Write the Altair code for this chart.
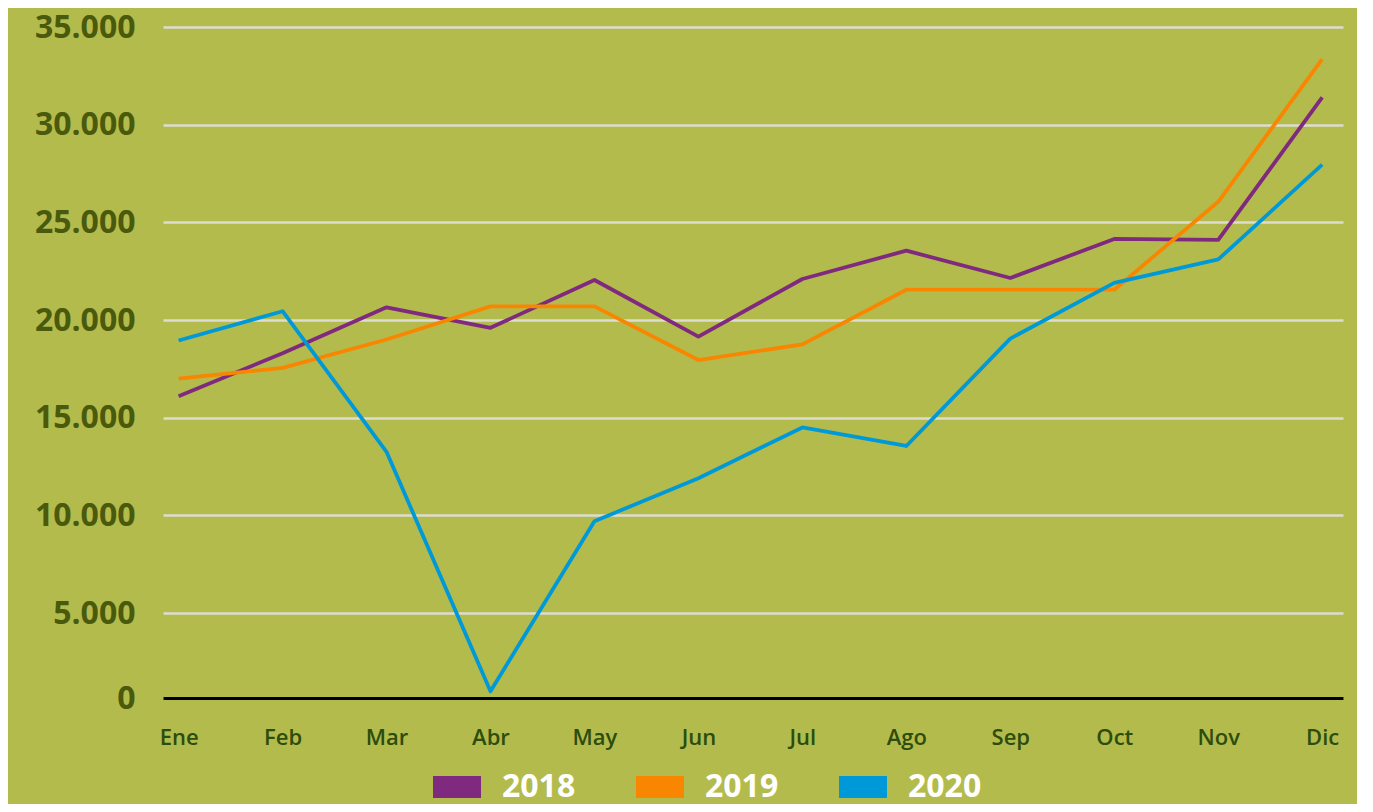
import altair as alt
import pandas as pd

months = ["Ene", "Feb", "Mar", "Abr", "May", "Jun", "Jul", "Ago", "Sep", "Oct", "Nov", "Dic"]
years = ["2018", "2019", "2020"]
v2018 = [16100, 18300, 20650, 19600, 22050, 19150, 22100, 23550, 22150, 24150, 24100, 31400]
v2019 = [17000, 17550, 19000, 20700, 20700, 17950, 18750, 21550, 21550, 21550, 26050, 33350]
v2020 = [18950, 20450, 13250, 400, 9700, 11900, 14500, 13550, 19050, 21900, 23100, 27950]
y_ticks = [0, 5000, 10000, 15000, 20000, 25000, 30000, 35000]
colors = ["#7f2a7f", "#f98600", "#0099d8"]

rows = []
for yr, vals in zip(years, [v2018, v2019, v2020]):
    for i, (m, v) in enumerate(zip(months, vals)):
        rows.append({"idx": i, "mes": m, "year": yr, "value": v})
df = pd.DataFrame(rows)

month_expr = "[" + ",".join(f"'{m}'" for m in months) + "][datum.value]"
FONT = "Open Sans"

chart = alt.Chart(df).mark_line(
    strokeWidth=3.8, strokeJoin="round"
).encode(
    x=alt.X(
        "idx:Q",
        scale=alt.Scale(domain=[-0.15, 11.2], nice=False, zero=False),
        axis=alt.Axis(
            values=list(range(12)), labelExpr=month_expr, title=None, grid=False,
            ticks=False, domainColor="#000000", domainWidth=3, labelFont=FONT,
            labelFontSize=22, labelFontWeight=600, labelColor="#2c4d0c",
            labelPadding=29, labelFlush=False, labelOverlap=False,
        ),
    ),
    y=alt.Y(
        "value:Q",
        scale=alt.Scale(domain=[0, 5000, 35000], range=[671, 586, 0], nice=False, zero=False),
        axis=alt.Axis(
            values=y_ticks, labelExpr="replace(format(datum.value, ','), ',', '.')",
            title=None, domain=False, ticks=False, gridColor="#dcdcd2", gridWidth=2.5,
            labelFont=FONT, labelFontSize=32, labelFontWeight="bold",
            labelColor="#4a5a0c", labelPadding=28,
        ),
    ),
    color=alt.Color(
        "year:N",
        scale=alt.Scale(domain=years, range=colors),
        legend=alt.Legend(
            title=None, orient="none", direction="horizontal", legendX=259, legendY=725,
            symbolType="M-1,0H1", symbolSize=2304, symbolStrokeWidth=22,
            labelFont=FONT, labelFontSize=32, labelFontWeight="bold",
            labelColor="#ffffff", labelOffset=10, columnPadding=16,
        ),
    ),
).properties(
    width=1180, height=671, background="#b4bb4d",
    padding={"left": 155, "top": 19, "right": 14, "bottom": 106},
    autosize=alt.AutoSizeParams(type="none"),
).configure_view(stroke=None)

chart.save("out.html", embed_options={"renderer": "svg", "actions": False})
